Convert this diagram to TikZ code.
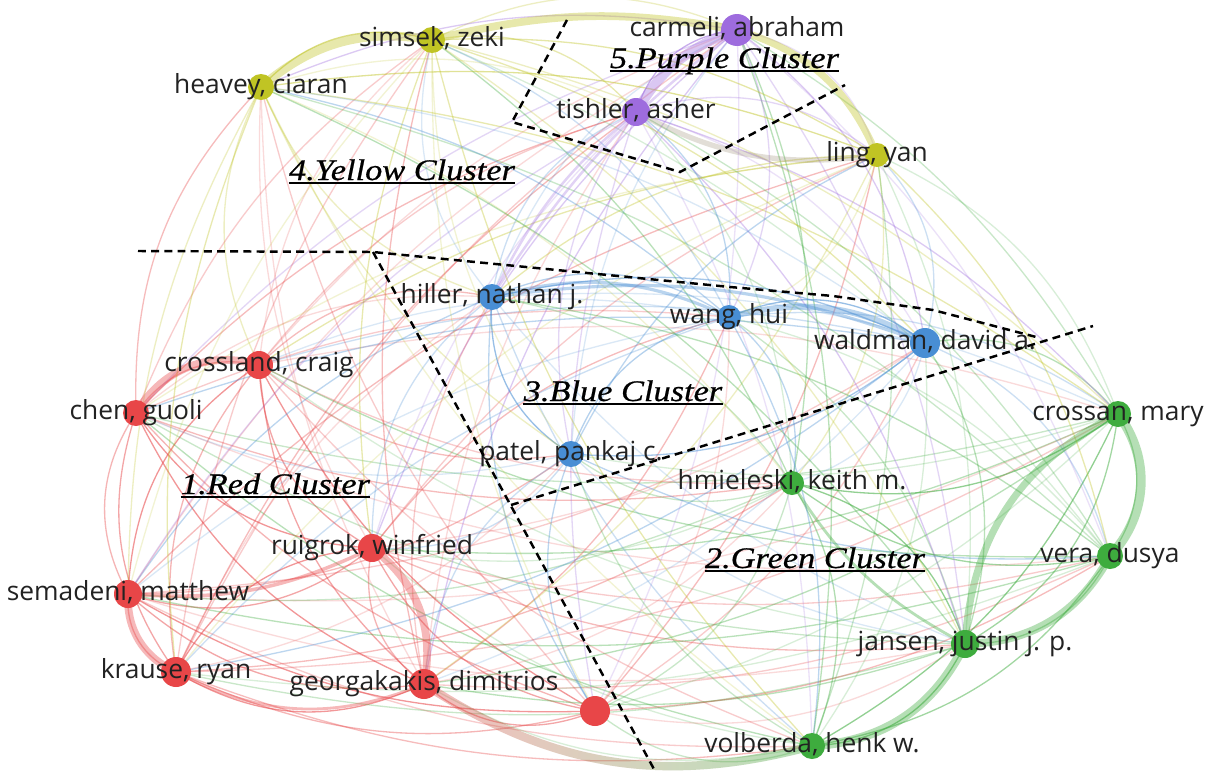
\documentclass[tikz,border=0pt]{standalone}
\usepackage{fontspec}
\setmainfont{Open Sans}
\newfontfamily\clusterfont[FakeStretch=1.15,FakeBold=0.6]{Liberation Serif}
\usetikzlibrary{calc,fadings}

\pgfdeclarelayer{bg}
\pgfdeclarelayer{edges}
\pgfsetlayers{bg,edges,main}

\definecolor{cRed}{RGB}{232,70,72}
\definecolor{cGreen}{RGB}{62,172,62}
\definecolor{cBlue}{RGB}{72,142,212}
\definecolor{cYellow}{RGB}{192,196,36}
\definecolor{cPurple}{RGB}{158,108,222}
\definecolor{labelgray}{RGB}{34,34,34}

\tikzfading[name=fadeout right, left color=transparent!0, right color=transparent!100]
\tikzfading[name=fadeout left, left color=transparent!100, right color=transparent!0]

\tikzset{
  dot/.style={circle, fill=#1, draw=none, inner sep=0pt},
  name label/.style={anchor=base, text=labelgray, inner sep=0pt,
    font=\fontsize{15}{17}\selectfont},
  cluster label/.style={anchor=base, text=black, inner sep=0pt,
    font=\clusterfont\itshape\fontsize{17}{19}\selectfont},
  link/.style={line width=0.75pt},
  tie/.style={line width=#1, draw opacity=0.38},
  boundary/.style={black, line width=1.4pt, dash pattern=on 4.5pt off 3pt},
  underline/.style={black, line width=1.1pt},
}

\begin{document}
\begin{tikzpicture}[x=0.02cm, y=-0.02cm]
\useasboundingbox (0,0) rectangle (1208,771);
\begin{pgfonlayer}{bg}
  \fill[white] (0,0) rectangle (1208,771);
\end{pgfonlayer}

% authors: name / x / y / radius / cluster colour
\foreach \nm/\px/\py/\rr/\cc [count=\k] in {
  crossland/259/365/14/cRed, chen/136/413/13/cRed, ruigrok/372/548/14/cRed,
  semadeni/128/594/14/cRed, krause/176/672/15/cRed, georgakakis/424/684/15/cRed,
  redx/595/711/15/cRed,
  crossan/1118/414/13/cGreen, hmieleski/792/483/12/cGreen, vera/1110/556/13/cGreen,
  jansen/965/644/14/cGreen, volberda/812/746/13/cGreen,
  hiller/492/297/13/cBlue, wang/729/317/12/cBlue, waldman/925/343/15/cBlue,
  patel/571/454/13/cBlue,
  simsek/432/40/13/cYellow, heavey/261/87/13/cYellow, ling/877/155/12/cYellow,
  carmeli/737/30/16/cPurple, tishler/636/112/14/cPurple}
{
  \node[dot=\cc, minimum size=2*\rr*0.02cm] (\nm) at (\px,\py) {};
  \expandafter\xdef\csname vname\k\endcsname{\nm}
  \expandafter\xdef\csname vcol\k\endcsname{\cc}
  \expandafter\xdef\csname vx\k\endcsname{\px}
  \expandafter\xdef\csname vy\k\endcsname{\py}
}

% co-authorship links, every pair, bent away from the middle of the map
\begin{pgfonlayer}{edges}
\foreach \i in {1,...,20}{%
  \pgfmathtruncatemacro\jfirst{\i+1}%
  \foreach \j in {\jfirst,...,21}{%
    \edef\na{\csname vname\i\endcsname}%
    \edef\nb{\csname vname\j\endcsname}%
    \edef\ca{\csname vcol\i\endcsname}%
    \edef\cb{\csname vcol\j\endcsname}%
    \edef\xa{\csname vx\i\endcsname}%
    \edef\ya{\csname vy\i\endcsname}%
    \edef\xb{\csname vx\j\endcsname}%
    \edef\yb{\csname vy\j\endcsname}%
    \pgfmathsetmacro\ddx{(\xb-\xa)/100}%
    \pgfmathsetmacro\ddy{(\yb-\ya)/100}%
    \pgfmathsetmacro\side{\ddy*((\xa+\xb)/200-6.4)-\ddx*((\ya+\yb)/200-4.0)}%
    \pgfmathsetmacro\bnd{max(14,40-5*veclen(\ddx,\ddy))*(\side>0 ? 1 : -1)}%
    \pgfmathtruncatemacro\pick{mod(\i*5+\j*3,4)}%
    \pgfmathsetmacro\op{0.2+0.08*mod(\i+\j,3)}%
    \ifx\ca\cb
      \edef\ec{\ca}\pgfmathsetmacro\op{\op+0.2}%
    \else
      \ifnum\pick<2 \edef\ec{\ca}\else\edef\ec{\cb}\fi
    \fi
    \draw[link, draw=\ec, draw opacity=\op] (\na.center) to[bend left=\bnd] (\nb.center);
  }%
}

% strong ties
\draw[tie=5pt, draw=cYellow] (heavey.center) to[bend left=25] (simsek.center);
\draw[tie=4.4pt, draw=cYellow] (simsek.center) to[bend left=12] (carmeli.center);
\draw[tie=4pt, draw=cYellow] (carmeli.center) to[bend left=25] (ling.center);
\draw[tie=3pt, draw=cPurple!45!cYellow!80!black, draw opacity=0.25] (tishler.center) to[bend left=-18] (ling.center);
\draw[tie=5.5pt, draw=cPurple] (carmeli.center) to[bend left=-20] (tishler.center);
\draw[tie=1.4pt, draw=cPurple, draw opacity=0.3] (carmeli.center) to[bend left=-10] (hiller.center);
\draw[tie=1.4pt, draw=cPurple, draw opacity=0.3] (tishler.center) to[bend left=-12] (hiller.center);
\draw[tie=3.4pt, draw=cBlue] (wang.center) to[bend left=22] (waldman.center);
\draw[tie=1.8pt, draw=cBlue] (hiller.center) to[bend left=14] (waldman.center);
\draw[tie=1.8pt, draw=cBlue] (hiller.center) to[bend left=20] (wang.center);
\draw[tie=4.4pt, draw=cRed] (chen.center) to[bend left=38] (crossland.center);
\draw[tie=4.4pt, draw=cRed] (semadeni.center) to[bend left=-34] (krause.center);
\draw[tie=4.4pt, draw=cRed] (ruigrok.center) to[bend left=32] (georgakakis.center);
\draw[tie=2pt, draw=cRed] (semadeni.center) to[bend left=-15] (ruigrok.center);
\draw[tie=1.6pt, draw=cRed] (krause.center) to[bend left=-25] (georgakakis.center);
\draw[tie=4.8pt, draw=cRed, path fading=fadeout right] (georgakakis.center) to[bend left=-24] (volberda.center);
\draw[tie=4.8pt, draw=cGreen, path fading=fadeout left] (georgakakis.center) to[bend left=-24] (volberda.center);
\draw[tie=5pt, draw=cGreen] (jansen.center) to[bend left=30] (volberda.center);
\draw[tie=4.6pt, draw=cGreen] (vera.center) to[bend left=30] (jansen.center);
\draw[tie=4pt, draw=cGreen] (jansen.center) to[bend left=30] (crossan.center);
\draw[tie=5.4pt, draw=cGreen] (crossan.center) to[bend left=40] (vera.center);
\draw[tie=1.6pt, draw=cGreen] (hmieleski.center) to[bend left=-15] (jansen.center);
\end{pgfonlayer}

% author labels
\foreach \nm/\txt in {
  crossland/{crossland, craig}, chen/{chen, guoli}, ruigrok/{ruigrok, winfried},
  semadeni/{semadeni, matthew}, krause/{krause, ryan}, georgakakis/{georgakakis, dimitrios},
  crossan/{crossan, mary}, hmieleski/{hmieleski, keith m.}, vera/{vera, dusya},
  jansen/{jansen, justin j. p.}, volberda/{volberda, henk w.},
  hiller/{hiller, nathan j.}, wang/{wang, hui}, waldman/{waldman, david a.},
  patel/{patel, pankaj c.}, simsek/{simsek, zeki}, heavey/{heavey, ciaran},
  ling/{ling, yan}, carmeli/{carmeli, abraham}, tishler/{tishler, asher}}
  \node[name label] (\nm-l) at ($(\nm)+(0,6)$) {\txt};

% cluster boundaries
\coordinate (pu1) at (567,20);
\coordinate (pu2) at (512,122);
\coordinate (pu3) at (680,172);
\coordinate (pu4) at (845,85);
\draw[boundary] (pu1) -- (pu2) -- (pu3) -- (pu4);
\coordinate (tl) at (138,251);
\coordinate (tc) at (373,252);
\coordinate (tr) at (1040,338);
\coordinate (vb) at (655,771);
\coordinate (gk) at (511,505);
\coordinate (gr) at (1093,326);
\draw[boundary] (tl) -- (tc) -- (730,287) -- (833,296) -- (933,310) -- (tr);
\draw[boundary] (tc) -- (vb);
\draw[boundary] (gk) -- (gr);

% cluster titles
\foreach \cn/\cx/\cy/\ctxt in {c5/724.5/68/{5.Purple Cluster}, c4/402/180/{4.Yellow Cluster},
  c3/623/401/{3.Blue Cluster}, c1/275.5/494/{1.Red Cluster}, c2/815/568/{2.Green Cluster}}
{
  \node[cluster label] (\cn) at (\cx,\cy) {\ctxt};
  \draw[underline] ([yshift=-1.8pt]\cn.base west) -- ([yshift=-1.8pt]\cn.base east);
}
\end{tikzpicture}
\end{document}
